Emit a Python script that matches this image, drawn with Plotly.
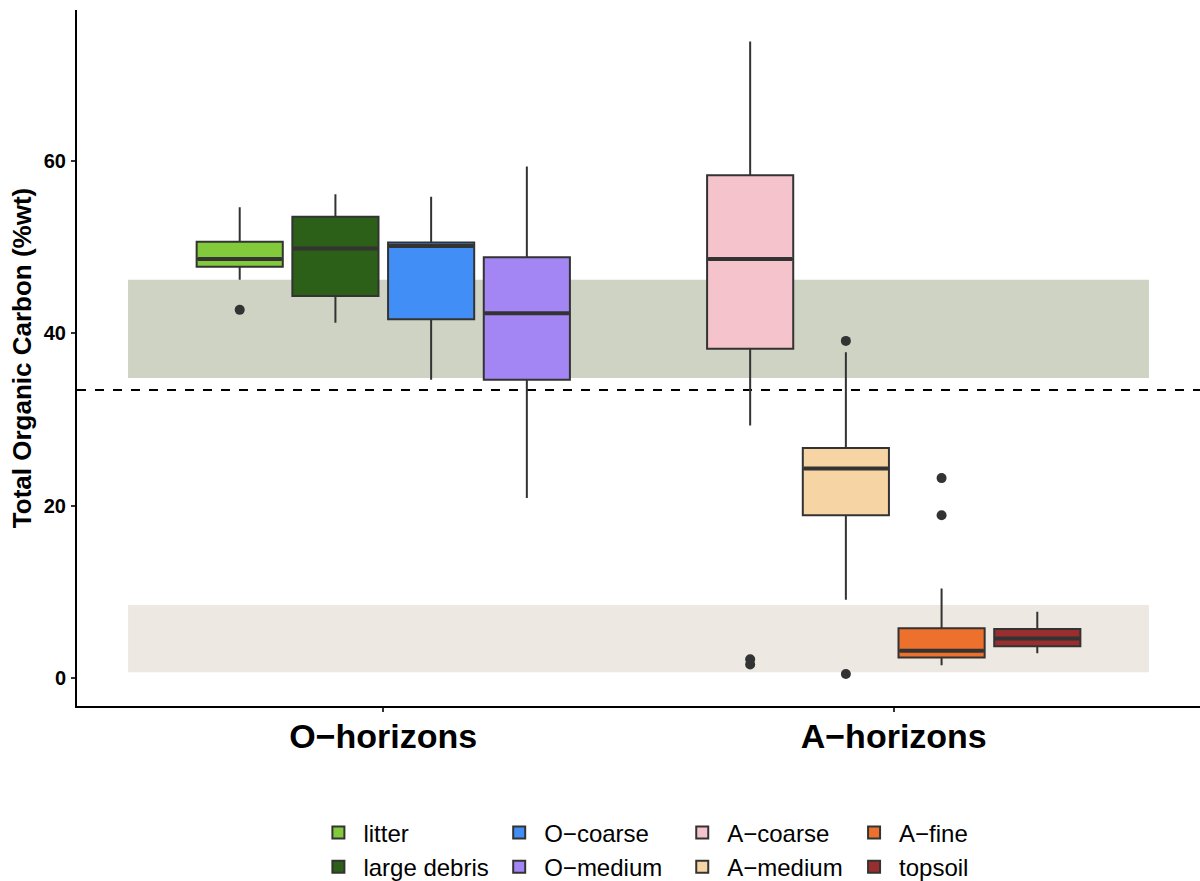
import plotly.graph_objects as go

# Fractions and their horizon
groups = ["litter", "large debris", "O\u2212coarse", "O\u2212medium",
          "A\u2212coarse", "A\u2212medium", "A\u2212fine", "topsoil"]
horizon_of_group = ["O\u2212horizons"] * 4 + ["A\u2212horizons"] * 4
horizons = ["O\u2212horizons", "A\u2212horizons"]

# Box statistics, total organic carbon (%wt)
lower_whisker = [46.2, 41.2, 34.6, 20.9, 29.3, 9.1, 1.5, 2.9]
q1 = [47.7, 44.3, 41.6, 34.6, 38.2, 18.9, 2.4, 3.7]
median = [48.6, 49.8, 50.1, 42.3, 48.6, 24.3, 3.2, 4.6]
q3 = [50.6, 53.5, 50.5, 48.8, 58.3, 26.7, 5.8, 5.7]
upper_whisker = [54.6, 56.1, 55.8, 59.3, 73.8, 37.8, 10.4, 7.7]

# Outlying samples
outlier_group = ["litter", "A\u2212coarse", "A\u2212coarse", "A\u2212medium",
                 "A\u2212medium", "A\u2212fine", "A\u2212fine"]
outlier_value = [42.7, 2.2, 1.6, 39.1, 0.5, 23.2, 18.9]

# Reference ranges (shaded) and threshold (dashed)
o_band = [34.8, 46.2]
a_band = [0.7, 8.5]
threshold = 33.4

colors = ["#82C93C", "#2C5F17", "#418FF6", "#A386F4",
          "#F5C3CB", "#F7D4A3", "#EE702D", "#982E2D"]

OUTLINE = "#333333"
FONT = "Liberation Sans, Arial, Helvetica, sans-serif"

# Dodged positions: four boxes per horizon
n_per = 4
dodge = 0.75
slot = dodge / n_per
box_w = slot * 0.9


def x_pos(i):
    base = horizons.index(horizon_of_group[i]) + 1
    k = i % n_per
    return base - dodge / 2 + slot * (k + 0.5)


legend_of_group = ["legend", "legend", "legend2", "legend2",
                   "legend3", "legend3", "legend4", "legend4"]

fig = go.Figure()

for i, g in enumerate(groups):
    xc = x_pos(i)
    fig.add_trace(go.Box(
        x=[xc], q1=[q1[i]], median=[median[i]], q3=[q3[i]],
        lowerfence=[lower_whisker[i]], upperfence=[upper_whisker[i]],
        width=box_w, whiskerwidth=0, boxpoints=False,
        fillcolor=colors[i], line=dict(color=OUTLINE, width=2),
        name=g, legend=legend_of_group[i], hoverinfo="skip",
    ))

# Thick median bars
for i, g in enumerate(groups):
    xc = x_pos(i)
    fig.add_trace(go.Scatter(
        x=[xc - box_w / 2 + 0.002, xc + box_w / 2 - 0.002],
        y=[median[i], median[i]], mode="lines",
        line=dict(color=OUTLINE, width=4), showlegend=False, hoverinfo="skip",
    ))

# Outlier points
ox = [x_pos(groups.index(g)) for g in outlier_group]
fig.add_trace(go.Scatter(
    x=ox, y=outlier_value, mode="markers",
    marker=dict(color=OUTLINE, size=10), showlegend=False, hoverinfo="skip",
))

# Shaded reference bands and threshold line
fig.add_shape(type="rect", xref="x", yref="y", x0=0.5, x1=2.5,
              y0=o_band[0], y1=o_band[1], fillcolor="#CFD3C3",
              line=dict(width=0), layer="below")
fig.add_shape(type="rect", xref="x", yref="y", x0=0.5, x1=2.5,
              y0=a_band[0], y1=a_band[1], fillcolor="#EDE8E2",
              line=dict(width=0), layer="below")
fig.add_shape(type="line", xref="paper", yref="y", x0=0, x1=1,
              y0=threshold, y1=threshold,
              line=dict(color="black", width=2, dash="9px,9px"), layer="below")

legend_common = dict(
    orientation="v", xanchor="left", yanchor="top", y=-0.150,
    font=dict(family=FONT, size=24, color="black"),
    bgcolor="rgba(0,0,0,0)", itemwidth=40, tracegroupgap=0,
)

fig.update_layout(
    width=1200, height=881, autosize=False,
    margin=dict(l=77, r=0, t=10, b=175, autoexpand=False),
    paper_bgcolor="white", plot_bgcolor="white",
    font=dict(family=FONT, color="black"),
    boxmode="overlay",
    legend=dict(x=0.2105, **legend_common),
    legend2=dict(x=0.3715, **legend_common),
    legend3=dict(x=0.5345, **legend_common),
    legend4=dict(x=0.6875, **legend_common),
    xaxis=dict(
        range=[0.4, 2.6], tickvals=[1, 2], ticktext=horizons,
        showline=True, linecolor="black", linewidth=2,
        ticks="outside", ticklen=4, tickwidth=1.5, tickcolor=OUTLINE,
        tickfont=dict(family=FONT, size=34, color="black", weight="bold"),
        ticklabelstandoff=-5,
        showgrid=False, zeroline=False,
    ),
    yaxis=dict(
        range=[-3.21, 77.45], tickvals=[0, 20, 40, 60],
        showline=True, linecolor="black", linewidth=2,
        ticks="outside", ticklen=4, tickwidth=1.5, tickcolor=OUTLINE,
        tickfont=dict(family=FONT, size=20, color="black", weight="bold"),
        ticklabelstandoff=1,
        title=dict(text="Total Organic Carbon (%wt)", standoff=5,
                   font=dict(family=FONT, size=26, color="black", weight="bold")),
        showgrid=False, zeroline=False,
    ),
)

fig.write_html("out.html")
